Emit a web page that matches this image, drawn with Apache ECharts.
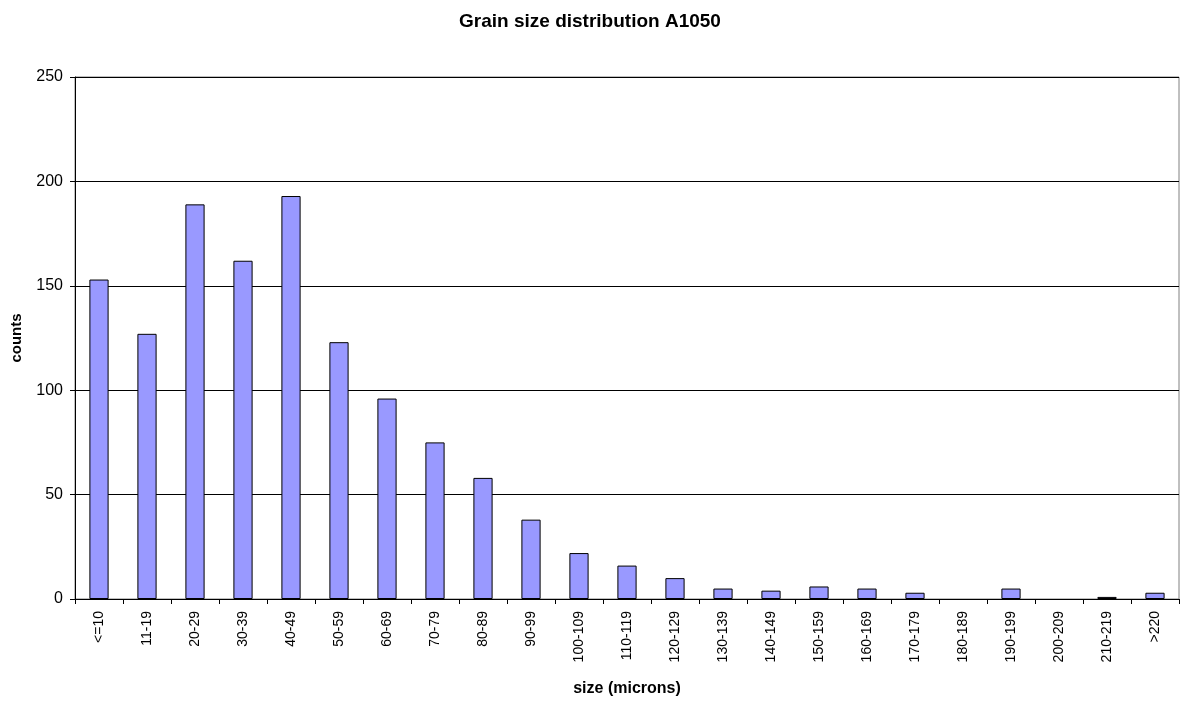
<!DOCTYPE html>
<html><head><meta charset="utf-8">
<script src="https://cdn.jsdelivr.net/npm/echarts@6/dist/echarts.min.js"></script>
<style>html,body{margin:0;padding:0;background:#fff}#c{width:1180px;height:703px}</style>
</head><body><div id="c"></div>
<script>
var categories = ['<=10','11-19','20-29','30-39','40-49','50-59','60-69','70-79','80-89','90-99','100-109','110-119','120-129','130-139','140-149','150-159','160-169','170-179','180-189','190-199','200-209','210-219','>220'];
var counts = [153,127,189,162,193,123,96,75,58,38,22,16,10,5,4,6,5,3,0,5,0,1,3];
var yTicks = [0,50,100,150,200,250];

var chart = echarts.init(document.getElementById('c'));
var font = 'Arial, "Liberation Sans", sans-serif';
chart.setOption({
  animation: false,
  title: {text: 'Grain size distribution A1050', left: 'center', top: 7,
    textStyle: {fontFamily: font, fontSize: 19, fontWeight: 'bold', color: '#000'}},
  grid: {left: 75, right: 1, top: 77, bottom: 104, show: true, borderColor: '#808080', borderWidth: 1,
    outerBoundsMode: 'none', containLabel: false},
  xAxis: {type: 'category', data: categories, name: 'size (microns)', nameLocation: 'middle', nameGap: 82,
    nameTextStyle: {fontFamily: font, fontSize: 16, fontWeight: 'bold', color: '#000'},
    axisLine: {lineStyle: {color: '#000'}},
    axisTick: {show: true, alignWithLabel: false, length: 5, lineStyle: {color: '#000'}},
    axisLabel: {rotate: 90, fontFamily: font, fontSize: 14, color: '#000', margin: 12, interval: 0}},
  yAxis: {type: 'value', min: yTicks[0], max: yTicks[yTicks.length-1], interval: 50, name: 'counts',
    nameLocation: 'middle', nameGap: 51, nameRotate: 90,
    nameTextStyle: {fontFamily: font, fontSize: 15, fontWeight: 'bold', color: '#000'},
    axisLine: {show: true, lineStyle: {color: '#000'}},
    axisTick: {show: true, length: 5, lineStyle: {color: '#000'}},
    axisLabel: {fontFamily: font, fontSize: 16, color: '#000', margin: 12},
    splitLine: {lineStyle: {color: '#000', width: 1}}},
  series: [{type: 'bar', barWidth: '40%',
    data: counts.map(function (v) { return v === 0 ? {value: v, itemStyle: {borderWidth: 0, opacity: 0}} : v; }),
    itemStyle: {color: '#9999FF', borderColor: '#000', borderWidth: 1}}]
});
</script></body></html>
